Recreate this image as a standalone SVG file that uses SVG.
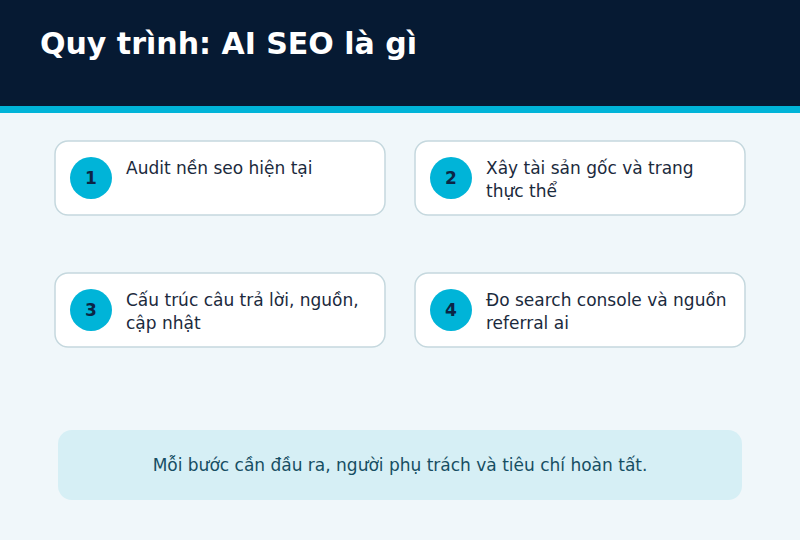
<svg xmlns="http://www.w3.org/2000/svg" width="800" height="540" viewBox="0 0 800 540">
<style>
.card{fill:#ffffff;stroke:#c5d8de;stroke-width:1.5}
.badge{fill:#00b4d8}
.num{font-family:"DejaVu Sans",sans-serif;font-size:17px;font-weight:bold;fill:#0b2545;text-anchor:middle}
.txt{font-family:"DejaVu Sans",sans-serif;font-size:17px;fill:#1b2a3d}
</style>
<rect x="0" y="0" width="800" height="540" fill="#f0f7fa"/>
<rect x="0" y="0" width="800" height="106" fill="#061a33"/>
<rect x="0" y="106" width="800" height="7" fill="#00b4d8"/>
<text x="40" y="54" font-family="DejaVu Sans, sans-serif" font-size="30" font-weight="bold" fill="#ffffff">Quy trình: AI SEO là gì</text>
<g id="step1">
<rect class="card" x="55" y="141" width="330" height="74" rx="13"/>
<circle class="badge" cx="91" cy="178" r="21"/>
<text class="num" x="91" y="184">1</text>
<text class="txt" x="126" y="174">Audit nền seo hiện tại</text>
</g>
<g id="step2">
<rect class="card" x="415" y="141" width="330" height="74" rx="13"/>
<circle class="badge" cx="451" cy="178" r="21"/>
<text class="num" x="451" y="184">2</text>
<text class="txt" x="486" y="174">Xây tài sản gốc và trang</text>
<text class="txt" x="486" y="197">thực thể</text>
</g>
<g id="step3">
<rect class="card" x="55" y="273" width="330" height="74" rx="13"/>
<circle class="badge" cx="91" cy="310" r="21"/>
<text class="num" x="91" y="316">3</text>
<text class="txt" x="126" y="306">Cấu trúc câu trả lời, nguồn,</text>
<text class="txt" x="126" y="329">cập nhật</text>
</g>
<g id="step4">
<rect class="card" x="415" y="273" width="330" height="74" rx="13"/>
<circle class="badge" cx="451" cy="310" r="21"/>
<text class="num" x="451" y="316">4</text>
<text class="txt" x="486" y="306">Đo search console và nguồn</text>
<text class="txt" x="486" y="329">referral ai</text>
</g>
<g id="connectors"></g>
<g id="note">
<rect x="58" y="430" width="684" height="70" rx="14" fill="#d6eff5"/>
<text x="400" y="471" font-family="DejaVu Sans, sans-serif" font-size="17" fill="#164e63" text-anchor="middle">Mỗi bước cần đầu ra, người phụ trách và tiêu chí hoàn tất.</text>
</g>
</svg>
